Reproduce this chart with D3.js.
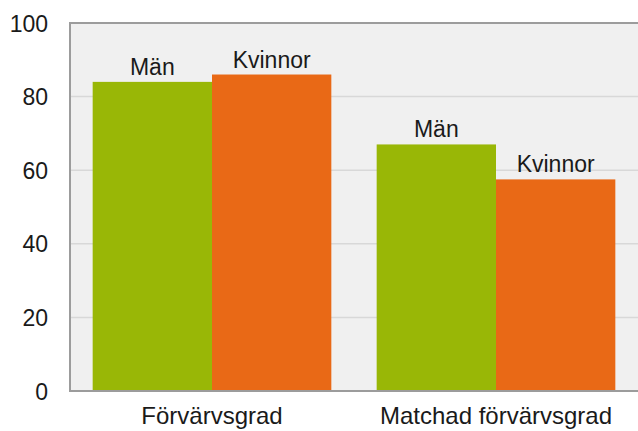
<!DOCTYPE html>
<html>
<head>
<meta charset="utf-8">
<script src="https://cdn.jsdelivr.net/npm/d3@7"></script>
<style>
  body { margin: 0; background: #fff; }
  text { font-family: "Liberation Sans", Arial, sans-serif; fill: #1a1a1a; }
</style>
</head>
<body>
<div id="chart"></div>
<script>
// data
const categories = ["Förvärvsgrad", "Matchad förvärvsgrad"]
const seriesNames = ["Män", "Kvinnor"]
const man = [84, 67]
const kvinnor = [86, 57.5]
const yTicks = [0, 20, 40, 60, 80, 100]

const colors = { "Män": "#99b706", "Kvinnor": "#e96916" }

const margin = { top: 23, right: 0, bottom: 40, left: 70 }
const width = 638 - margin.left - margin.right
const height = 431 - margin.top - margin.bottom

const svg = d3.select("#chart").append("svg")
    .attr("width", 638)
    .attr("height", 431)
    .append("g")
    .attr("transform", "translate(" + margin.left + "," + margin.top + ")")

// scales
const x0 = d3.scaleBand()
    .range([0, width])
    .domain(categories)
    .padding(0)

const x1 = d3.scaleBand()
    .range([0, x0.bandwidth()])
    .domain(seriesNames)
    .paddingInner(0)
    .paddingOuter(0.19)

const y = d3.scaleLinear()
    .range([height, 0])
    .domain([0, 100])

// plot background
svg.append("rect")
    .attr("width", width)
    .attr("height", height)
    .style("fill", "#f0f0f0")

// gridlines
svg.append("g")
    .selectAll("line")
    .data(yTicks.filter(d => d > 0 && d < 100))
    .enter()
    .append("line")
    .attr("x1", 0)
    .attr("x2", width)
    .attr("y1", d => y(d))
    .attr("y2", d => y(d))
    .style("stroke", "#d8d8d8")
    .style("stroke-width", 1.5)

// y axis labels
const yAxis = d3.axisLeft(y)
    .tickValues(yTicks)
    .tickSize(0)
    .tickPadding(22)

svg.append("g")
    .attr("class", "y-axis")
    .call(yAxis)
    .call(g => g.select(".domain").remove())
    .selectAll("text")
    .style("font-size", "23px")
    .attr("dy", "0.35em")

// rows for bars
const rows = []
categories.forEach((c, i) => {
    rows.push({ cat: c, series: "Män", value: man[i] })
    rows.push({ cat: c, series: "Kvinnor", value: kvinnor[i] })
})

svg.selectAll(".bar")
    .data(rows)
    .enter()
    .append("rect")
    .attr("class", "bar")
    .attr("x", d => x0(d.cat) + x1(d.series))
    .attr("width", x1.bandwidth())
    .attr("y", d => y(d.value))
    .attr("height", d => height - y(d.value))
    .style("fill", d => colors[d.series])

// bar labels
svg.selectAll(".bar-label")
    .data(rows)
    .enter()
    .append("text")
    .attr("class", "bar-label")
    .attr("x", d => x0(d.cat) + x1(d.series) + x1.bandwidth() / 2)
    .attr("y", d => y(d.value) - 7)
    .attr("text-anchor", "middle")
    .style("font-size", "23px")
    .text(d => d.series)

// frame: top, left, bottom
svg.append("path")
    .attr("d", "M" + width + ",0H0V" + height + "H" + width)
    .style("fill", "none")
    .style("stroke", "#9c9c9c")
    .style("stroke-width", 2)

// x axis labels
const xAxis = d3.axisBottom(x0)
    .tickSize(0)
    .tickPadding(16)

svg.append("g")
    .attr("class", "x-axis")
    .attr("transform", "translate(0," + height + ")")
    .call(xAxis)
    .call(g => g.select(".domain").remove())
    .selectAll("text")
    .style("font-size", "24px")
</script>
</body>
</html>
